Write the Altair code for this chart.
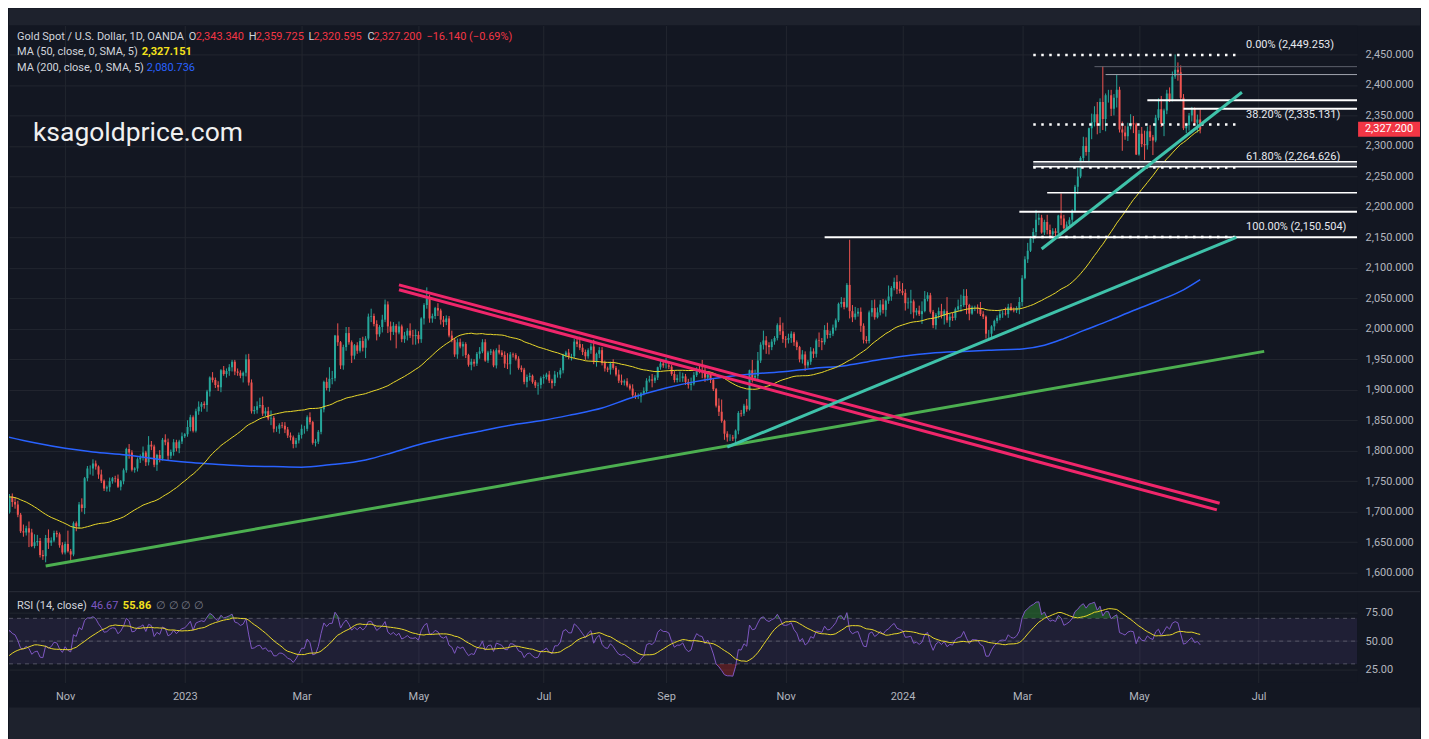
import altair as alt
import pandas as pd
import numpy as np

# ------------------------------------------------------------------ data
# closes before the first visible bar (Jul 25 - Oct 3 2022), used for MA50 / RSI warm-up
warmup_closes = [1719, 1717, 1734, 1756, 1766,
                 1772, 1760, 1765, 1791, 1775, 1789, 1794, 1792, 1790, 1802, 1779, 1775, 1761, 1758,
                 1747, 1736, 1748, 1751, 1758, 1737, 1738, 1723, 1711,
                 1697, 1712, 1710, 1702, 1718, 1708, 1716, 1724, 1702, 1697, 1665, 1675, 1676, 1664,
                 1673, 1671, 1643, 1622, 1628, 1660, 1660, 1661,
                 1699]

# daily bars: (close, upper wick, lower wick); open = previous close
oct22 = [(1725, 4, 2), (1716, 5, 8), (1712, 8, 7), (1695, 6, 4), (1668, 3, 3), (1666, 11, 7), (1673, 4, 5),
         (1666, 11, 24), (1644, 6, 2), (1650, 13, 4), (1652, 10, 6), (1629, 5, 4), (1627, 8, 6), (1657, 5, 10),
         (1649, 14, 10), (1653, 5, 5), (1665, 4, 3), (1663, 4, 5), (1645, 3, 4), (1633, 5, 3)]
nov22 = [(1647, 4, 3), (1635, 22, 2), (1630, 4, 14), (1681, 3, 3), (1676, 3, 8), (1712, 4, 4), (1706, 10, 6),
         (1755, 2, 10), (1771, 4, 5), (1771, 5, 10), (1779, 7, 12), (1774, 5, 5), (1761, 2, 7), (1751, 8, 4),
         (1738, 2, 4), (1740, 3, 5), (1750, 6, 7), (1755, 2, 4), (1754, 4, 6), (1741, 7, 2), (1750, 2, 6),
         (1768, 3, 5)]
dec22 = [(1803, 2, 4), (1797, 8, 10), (1769, 4, 3), (1771, 2, 5), (1786, 3, 5), (1789, 5, 6), (1797, 10, 5),
         (1781, 3, 6), (1810, 14, 5), (1807, 6, 6), (1777, 3, 4), (1793, 2, 10), (1787, 8, 6), (1818, 3, 3),
         (1814, 9, 5), (1792, 6, 8), (1798, 4, 5), (1814, 5, 6), (1804, 4, 5), (1815, 3, 8), (1824, 6, 4)]
jan23 = [(1827, 2, 3), (1839, 11, 4), (1855, 4, 7), (1833, 3, 3), (1865, 4, 3), (1872, 9, 6), (1877, 3, 8),
         (1875, 4, 6), (1897, 3, 11), (1920, 2, 8), (1916, 9, 4), (1908, 4, 5), (1904, 6, 6), (1932, 2, 8),
         (1926, 7, 3), (1931, 4, 6), (1937, 5, 8), (1946, 3, 7), (1930, 3, 6), (1928, 5, 5), (1923, 4, 4),
         (1928, 2, 11)]
feb23 = [(1950, 8, 6), (1912, 9, 5), (1865, 5, 4), (1867, 6, 5), (1873, 8, 6), (1875, 12, 3), (1861, 14, 4),
         (1865, 6, 4), (1853, 7, 3), (1854, 12, 11), (1836, 3, 6), (1836, 4, 5), (1842, 3, 8), (1841, 5, 4),
         (1835, 6, 6), (1825, 4, 4), (1822, 5, 5), (1811, 3, 7), (1817, 4, 6), (1826, 4, 5)]
mar23 = [(1836, 7, 6), (1836, 5, 8), (1855, 3, 4), (1847, 8, 4), (1813, 2, 3), (1815, 4, 6), (1831, 3, 4),
         (1868, 3, 4), (1913, 2, 5), (1903, 7, 4), (1918, 19, 6), (1919, 12, 9), (1989, 1, 5), (1978, 20, 6),
         (1940, 2, 6), (1970, 4, 7), (1993, 10, 6), (1978, 10, 4), (1956, 3, 12), (1973, 2, 6), (1964, 5, 5),
         (1980, 5, 3), (1969, 7, 6)]
apr23 = [(1984, 4, 17), (2020, 5, 3), (2021, 12, 9), (2008, 4, 4), (1991, 6, 10), (2003, 3, 4), (2015, 8, 9),
         (2040, 8, 4), (2004, 5, 11), (1995, 8, 14), (2005, 6, 5), (1994, 3, 26), (2004, 8, 3), (1983, 3, 5),
         (1989, 6, 6), (1997, 4, 8), (1989, 12, 4), (1988, 9, 14), (1990, 9, 14)]
may23 = [(1983, 6, 7), (2017, 2, 6), (2039, 3, 10), (2050, 18, 6), (2017, 6, 7), (2021, 4, 7), (2034, 2, 5),
         (2030, 8, 9), (2015, 3, 8), (2011, 6, 8), (2017, 5, 5), (1989, 4, 3), (1982, 8, 4), (1958, 3, 4),
         (1978, 6, 7), (1971, 6, 3), (1975, 4, 16), (1957, 3, 5), (1941, 2, 3), (1946, 5, 9), (1943, 4, 5),
         (1959, 3, 4), (1963, 7, 8)]
jun23 = [(1978, 5, 3), (1948, 5, 2), (1961, 3, 4), (1963, 4, 4), (1940, 3, 3), (1965, 3, 5), (1961, 9, 3),
         (1957, 4, 3), (1943, 6, 7), (1942, 17, 8), (1958, 4, 17), (1957, 3, 4), (1951, 3, 3), (1936, 4, 3),
         (1933, 4, 4), (1913, 3, 4), (1921, 4, 9), (1923, 5, 6), (1913, 2, 3), (1907, 3, 4), (1908, 4, 15),
         (1919, 3, 6)]
jul23 = [(1921, 4, 9), (1925, 3, 4), (1915, 6, 4), (1911, 3, 9), (1925, 6, 5), (1925, 4, 5), (1932, 4, 6),
         (1957, 2, 5), (1961, 3, 4), (1955, 6, 5), (1955, 4, 7), (1979, 5, 3), (1975, 7, 5), (1969, 12, 4),
         (1962, 6, 5), (1955, 4, 6), (1965, 3, 4), (1971, 5, 6), (1946, 11, 4), (1959, 2, 8), (1965, 5, 7)]
aug23 = [(1944, 5, 4), (1935, 4, 5), (1933, 3, 4), (1943, 3, 8), (1936, 7, 3), (1925, 3, 3), (1915, 8, 4),
         (1912, 10, 4), (1914, 3, 5), (1907, 5, 3), (1902, 3, 3), (1891, 7, 3), (1889, 5, 4), (1889, 5, 4),
         (1894, 2, 10), (1898, 6, 3), (1915, 4, 3), (1917, 6, 3), (1915, 9, 11), (1920, 4, 4), (1937, 1, 4),
         (1943, 6, 4), (1940, 6, 4)]
sep23 = [(1940, 12, 5), (1938, 5, 4), (1926, 3, 3), (1916, 5, 4), (1919, 6, 4), (1919, 11, 6), (1922, 6, 6),
         (1913, 4, 5), (1908, 5, 6), (1910, 10, 9), (1924, 5, 3), (1934, 3, 3), (1931, 5, 4), (1930, 18, 11),
         (1920, 7, 7), (1925, 5, 5), (1916, 4, 5), (1901, 3, 3), (1874, 2, 3), (1864, 12, 7), (1849, 20, 3)]
oct23 = [(1828, 2, 10), (1822, 4, 7), (1822, 5, 6), (1820, 4, 4), (1833, 2, 10), (1862, 3, 6), (1861, 5, 5),
         (1874, 3, 4), (1868, 11, 4), (1932, 1, 2), (1920, 17, 8), (1923, 10, 5), (1948, 14, 7), (1974, 4, 4),
         (1981, 16, 8), (1973, 7, 14), (1970, 5, 12), (1979, 4, 5), (1985, 3, 5), (2006, 3, 4), (1996, 13, 6),
         (1983, 14, 6)]
nov23 = [(1982, 5, 13), (1985, 7, 6), (1992, 4, 8), (1978, 3, 6), (1970, 3, 5), (1950, 2, 5), (1958, 7, 7),
         (1940, 5, 9), (1946, 3, 4), (1963, 7, 5), (1959, 5, 7), (1981, 3, 6), (1980, 13, 10), (1978, 5, 13),
         (1998, 8, 4), (1990, 12, 6), (1992, 5, 5), (2002, 5, 4), (2014, 3, 5), (2041, 2, 3), (2044, 8, 6),
         (2036, 7, 4)]
dec23 = [(2072, 3, 2), (2029, 74, 12), (2019, 10, 8), (2025, 11, 4), (2028, 6, 5), (2005, 7, 10), (1982, 4, 6),
         (1980, 6, 4), (2027, 3, 4), (2034, 13, 7), (2019, 14, 4), (2027, 8, 2), (2040, 7, 5), (2031, 9, 6),
         (2046, 2, 11), (2053, 18, 5), (2067, 3, 7), (2077, 7, 4), (2065, 11, 8), (2062, 13, 4)]
jan24 = [(2059, 13, 4), (2042, 6, 12), (2043, 8, 9), (2045, 19, 19), (2027, 3, 10), (2030, 4, 5), (2024, 8, 3),
         (2029, 16, 16), (2049, 13, 2), (2055, 5, 4), (2028, 4, 3), (2006, 3, 5), (2023, 3, 7), (2029, 6, 6),
         (2021, 12, 4), (2029, 3, 14), (2014, 23, 4), (2020, 5, 11), (2018, 6, 5), (2032, 3, 4), (2037, 11, 3),
         (2039, 17, 9)]
feb24 = [(2054, 11, 3), (2039, 11, 15), (2025, 2, 11), (2035, 3, 2), (2035, 3, 6), (2034, 5, 9), (2024, 10, 3),
         (2020, 5, 4), (1992, 2, 8), (1992, 6, 8), (2004, 2, 7), (2013, 2, 7), (2018, 4, 4), (2024, 7, 4),
         (2025, 5, 6), (2024, 10, 2), (2036, 5, 6), (2031, 6, 2), (2030, 4, 3), (2034, 3, 4), (2044, 8, 10)]
mar24 = [(2083, 5, 7), (2114, 5, 2), (2128, 13, 6), (2148, 4, 2), (2159, 6, 7), (2179, 16, 8), (2182, 7, 9),
         (2158, 5, 2), (2175, 4, 4), (2162, 12, 7), (2155, 9, 6), (2160, 5, 8), (2157, 5, 11), (2186, 1, 7),
         (2181, 36, 11), (2165, 6, 2), (2171, 5, 4), (2179, 4, 6), (2194, 2, 6), (2233, 3, 3)]
apr24 = [(2250, 15, 12), (2280, 3, 3), (2300, 15, 6), (2290, 14, 6), (2329, 1, 23), (2339, 14, 18), (2352, 13, 7),
         (2333, 20, 14), (2372, 6, 12), (2344, 59, 18), (2383, 3, 20), (2383, 9, 12), (2361, 9, 12), (2379, 6, 11),
         (2392, 25, 16), (2327, 5, 5), (2322, 13, 30), (2316, 11, 6), (2332, 6, 8), (2337, 15, 5), (2335, 12, 14),
         (2286, 3, 1)]
may24 = [(2320, 6, 2), (2303, 11, 5), (2301, 22, 24), (2324, 8, 7), (2314, 10, 6), (2309, 4, 24), (2346, 5, 3),
         (2360, 18, 4), (2336, 22, 5), (2358, 3, 20), (2386, 6, 6), (2376, 10, 4), (2414, 8, 3), (2425, 25, 4),
         (2421, 12, 14), (2379, 11, 5), (2329, 6, 3), (2334, 4, 8), (2350, 4, 9), (2361, 3, 10), (2338, 2, 4),
         (2343.34, 8, 16), (2327.2, 16.385, 6.605)]

# 200-day SMA
ma200_dates = ["2022-10-03", "2022-10-17", "2022-11-01", "2022-11-15", "2022-12-01", "2022-12-15",
               "2023-01-03", "2023-01-17", "2023-02-01", "2023-02-15", "2023-03-01", "2023-03-15",
               "2023-04-03", "2023-04-17", "2023-05-01", "2023-05-15", "2023-06-01", "2023-06-15",
               "2023-07-03", "2023-07-17", "2023-08-01", "2023-08-15", "2023-09-01", "2023-09-15",
               "2023-10-02", "2023-10-16", "2023-11-01", "2023-11-15", "2023-12-01", "2023-12-15",
               "2024-01-02", "2024-01-16", "2024-02-01", "2024-02-15", "2024-03-01", "2024-03-13",
               "2024-03-22", "2024-04-03", "2024-04-16", "2024-04-29", "2024-05-10", "2024-05-23",
               "2024-05-31"]
ma200_vals = [1823, 1813, 1804, 1798, 1793, 1787,
              1781, 1778, 1775, 1774, 1773, 1777,
              1785, 1796, 1810, 1821, 1833, 1842,
              1850, 1859, 1870, 1886, 1903, 1913,
              1921, 1926, 1930, 1935, 1940, 1948,
              1955, 1960, 1963, 1965, 1967, 1973,
              1984, 1997, 2013, 2030, 2046, 2064,
              2080.736]

# drawn trend lines: start date, start price, end date, end price, colour
trend_d1 = ["2022-10-21", "2023-04-20", "2023-04-20", "2023-10-03", "2024-03-12"]
trend_p1 = [1611, 2072, 2064, 1806, 2131]
trend_d2 = ["2024-07-03", "2024-06-11", "2024-06-10", "2024-06-19", "2024-06-21"]
trend_p2 = [1963, 1714, 1703, 2150, 2388]
trend_col = ["#4caf50", "#f0266b", "#f0266b", "#3fc2aa", "#3fc2aa"]

# horizontal levels extended to the right
level_dates = ["2023-11-21", "2024-02-29", "2024-03-14", "2024-03-07", "2024-03-07",
               "2024-05-06", "2024-05-23", "2024-04-09", "2024-04-15"]
level_prices = [2150, 2192, 2223, 2274, 2266, 2375, 2361, 2430, 2417]
level_cols = ["#ffffff", "#ffffff", "#ffffff", "#ffffff", "#ffffff", "#ffffff", "#ffffff", "#5d606b", "#a3a6af"]
box_date, box_top, box_bot = "2024-03-07", 2274, 2266

# Fibonacci retracement
fib_start, fib_end = "2024-03-07", "2024-06-20"
fib_ratios = [0.0, 0.382, 0.618, 1.0]
fib_prices = [2449.253, 2335.131, 2264.626, 2150.504]

rsi_levels = [70, 50, 30]
ma50_last, ma200_last = "2,327.151", "2,080.736"
rsi_last, rsi_ma_last = "46.67", "55.86"

# ------------------------------------------------------------------ derived
HOLIDAYS = pd.to_datetime(["2022-12-26", "2023-04-07", "2023-12-25", "2024-01-01", "2024-03-29"])
cal = pd.bdate_range("2022-06-01", "2024-09-30")
cal = cal[~cal.isin(HOLIDAYS)]
pos0 = cal.get_loc(pd.Timestamp("2022-10-04"))


def idx(d):
    return int(cal.get_loc(pd.Timestamp(d))) - pos0


bars = (oct22 + nov22 + dec22 + jan23 + feb23 + mar23 + apr23 + may23 + jun23 + jul23 + aug23 + sep23 +
        oct23 + nov23 + dec23 + jan24 + feb24 + mar24 + apr24 + may24)
nb = len(bars)
nw = len(warmup_closes)

c = [b[0] for b in bars]
o = [warmup_closes[-1]] + c[:-1]
h = [max(oo, cc) + b[1] for oo, cc, b in zip(o, c, bars)]
l = [min(oo, cc) - b[2] for oo, cc, b in zip(o, c, bars)]
cdf = pd.DataFrame({"i": range(nb), "o": o, "c": c, "h": h, "l": l})
cdf["col"] = np.where(cdf["c"] >= cdf["o"], "#26a69a", "#ef5350")

s = pd.Series(warmup_closes + c, dtype=float)
ma50 = s.rolling(50).mean()
delta = s.diff()
ag = delta.clip(lower=0).ewm(alpha=1 / 14, adjust=False).mean()
al = (-delta).clip(lower=0).ewm(alpha=1 / 14, adjust=False).mean()
rsi = 100 - 100 / (1 + ag / al)
rsi_ma = rsi.rolling(14).mean()
ldf = pd.DataFrame({"i": range(-nw, nb), "ma50": ma50, "rsi": rsi, "rsi_ma": rsi_ma})
ldf = ldf[ldf["i"] >= -3].copy()
ldf["over"] = ldf["rsi"].clip(lower=70)
ldf["under"] = ldf["rsi"].clip(upper=30)

ma200_df = pd.DataFrame({"i": [idx(d) for d in ma200_dates], "v": ma200_vals})
trend_df = pd.DataFrame({"x1": [idx(d) for d in trend_d1], "y1": trend_p1,
                         "x2": [idx(d) for d in trend_d2], "y2": trend_p2, "col": trend_col})
lvl_df = pd.DataFrame({"x": [idx(d) for d in level_dates], "p": level_prices, "col": level_cols,
                       "w": [2, 2, 1.5, 1.5, 1.5, 2, 2, 1, 1]})
box_df = pd.DataFrame({"x": [idx(box_date)], "t": [box_top], "b": [box_bot]})
fib_df = pd.DataFrame({"x1": idx(fib_start), "x2": idx(fib_end), "p": fib_prices,
                       "label": [f"{r * 100:.2f}% ({p:,.3f})" for r, p in zip(fib_ratios, fib_prices)]})
last_df = pd.DataFrame({"c": [c[-1]], "t": [f"{c[-1]:,.3f}"]})

# month ticks (every other month)
tick_vals, tick_labels = [], []
for m in pd.period_range("2022-10", "2024-09", freq="M"):
    if m.month % 2 == 1:
        first = cal[(cal.year == m.year) & (cal.month == m.month)][0]
        iv = idx(first)
        if 0 <= iv <= 484:
            tick_vals.append(iv)
            tick_labels.append(str(m.year) if m.month == 1 else first.strftime("%b"))
label_expr = " : ".join(f"datum.value == {v} ? '{t}'" for v, t in zip(tick_vals, tick_labels)) + " : ''"

# ------------------------------------------------------------------ styling
W, PH, RH, TOTAL_W = 1350, 566, 91, 1413
XDOM = [-0.18, 484.4]
YDOM = [1570.5, 2497.5]
RDOM = [13.6, 93.4]
BG, OUTER, GRID = "#131722", "#1e222d", "#22262f"
FONT = "Roboto"
TXT = "#d1d4dc"
AX = "#b2b5be"
RED = "#f23645"

xs = alt.Scale(domain=XDOM, nice=False, zero=False, padding=0)
ys = alt.Scale(domain=YDOM, nice=False, zero=False, padding=0)
rs = alt.Scale(domain=RDOM, nice=False, zero=False, padding=0)
x_ax_p = alt.Axis(values=tick_vals, labels=False, ticks=False, domain=False, grid=True, gridColor=GRID,
                  title=None, minExtent=0, maxExtent=0)
y_ax_p = alt.Axis(orient="right", values=list(range(1600, 2451, 50)), format=",.3f", labelColor=AX,
                  labelFont=FONT, labelFontSize=11, labelPadding=8, ticks=False, domain=False, grid=True,
                  gridColor=GRID, title=None)
x_ax_r = alt.Axis(values=tick_vals, labelExpr=label_expr, labelColor=AX, labelFont=FONT, labelFontSize=11,
                  labelPadding=8, labelOverlap=False, labelFlush=False, ticks=False, domain=False, grid=True,
                  gridColor=GRID, title=None, minExtent=25, maxExtent=25)
y_ax_r = alt.Axis(orient="right", values=[25, 50, 75], format=".2f", labelColor=AX, labelFont=FONT,
                  labelFontSize=11, labelPadding=8, ticks=False, domain=False, grid=True, gridColor=GRID,
                  title=None)


def PX(f):
    return alt.X(f, type="quantitative", scale=xs, axis=x_ax_p)


def PY(f):
    return alt.Y(f, type="quantitative", scale=ys, axis=y_ax_p)


def RX(f):
    return alt.X(f, type="quantitative", scale=xs, axis=x_ax_r)


def RY(f):
    return alt.Y(f, type="quantitative", scale=rs, axis=y_ax_r)


wicks = alt.Chart(cdf).mark_rule(strokeWidth=1, clip=True).encode(
    x=PX("i"), y=PY("l"), y2=alt.Y2("h"), color=alt.Color("col:N", scale=None))
bodies = alt.Chart(cdf).mark_bar(size=2, clip=True).encode(
    x=PX("i"), y=PY("o"), y2=alt.Y2("c"), color=alt.Color("col:N", scale=None))
ma200_line = alt.Chart(ma200_df).mark_line(color="#2962ff", strokeWidth=1.5, clip=True, interpolate="monotone").encode(
    x=PX("i"), y=PY("v"))
ma50_line = alt.Chart(ldf).mark_line(color="#e9d82a", strokeWidth=1, clip=True).encode(
    x=PX("i"), y=PY("ma50"))
box = alt.Chart(box_df).mark_rect(color="#50535e", opacity=0.9, clip=True).encode(
    x=PX("x"), x2=alt.value(W), y=PY("t"), y2=alt.Y2("b"))
levels = alt.Chart(lvl_df).mark_rule(clip=True).encode(
    x=PX("x"), x2=alt.value(W), y=PY("p"), color=alt.Color("col:N", scale=None),
    strokeWidth=alt.StrokeWidth("w:Q", scale=None))
trends = alt.Chart(trend_df).mark_rule(strokeWidth=3, clip=True).encode(
    x=PX("x1"), y=PY("y1"), x2=alt.X2("x2"), y2=alt.Y2("y2"), color=alt.Color("col:N", scale=None))
fib_lines = alt.Chart(fib_df).mark_rule(color="#ffffff", strokeWidth=2.5, strokeDash=[2.5, 5.5], clip=True).encode(
    x=PX("x1"), x2=alt.X2("x2"), y=PY("p"))
fib_text = alt.Chart(fib_df).mark_text(align="left", baseline="middle", dx=7, dy=-10, font=FONT,
                                       fontSize=11, color="#e6e8ee").encode(
    x=PX("x2"), y=PY("p"), text="label:N")
tag = alt.Chart(last_df).mark_point(shape="M-1,-0.242L1,-0.242L1,0.242L-1,0.242Z", size=3844, filled=True,
                                    fill=RED, opacity=1, strokeWidth=0).encode(
    x=alt.value(W + 32), y=PY("c"))
tag_text = alt.Chart(last_df).mark_text(font=FONT, fontSize=11, color="#ffffff", baseline="middle").encode(
    x=alt.value(W + 32), y=PY("c"), text="t:N")

lo, lh, ll, lc = o[-1], h[-1], l[-1], c[-1]
chg = lc - lo
chg_txt = f"{'−' if chg < 0 else '+'}{abs(chg):,.3f} ({'−' if chg < 0 else '+'}{abs(chg) / lo * 100:.2f}%)"
one = pd.DataFrame({"v": [0]})


def label(x, y, text, color, size=11, weight="normal", chart_data=one):
    return alt.Chart(chart_data).mark_text(align="left", baseline="middle", font=FONT, fontSize=size,
                                           fontWeight=weight, color=color).encode(
        x=alt.value(x), y=alt.value(y), text=alt.value(text))


price_legend = [
    label(8, 12, "Gold Spot / U.S. Dollar, 1D, OANDA", TXT),
    label(180, 12, "O", TXT), label(187, 12, f"{lo:,.3f}", RED),
    label(240, 12, "H", TXT), label(247, 12, f"{lh:,.3f}", RED),
    label(300, 12, "L", TXT), label(305, 12, f"{ll:,.3f}", RED),
    label(359, 12, "C", TXT), label(365, 12, f"{lc:,.3f}", RED),
    label(418, 12, chg_txt, RED),
    label(8, 27, "MA (50, close, 0, SMA, 5)", TXT), label(133, 27, ma50_last, "#f5e21c", weight="bold"),
    label(8, 43, "MA (200, close, 0, SMA, 5)", TXT), label(138, 43, ma200_last, "#2962ff"),
    label(24, 108, "ksagoldprice.com", "#f0f0f0", size=26.5),
]

price = alt.layer(wicks, bodies, ma200_line, ma50_line, box, levels, fib_lines, trends, fib_text, tag, tag_text,
                  *price_legend).properties(
    width=W, height=PH, view=alt.ViewBackground(fill=BG, strokeWidth=0))

band = alt.Chart(one).mark_rect(color="#7e57c2", opacity=0.12).encode(
    x=alt.value(0), x2=alt.value(W), y=RY("a"), y2=alt.Y2("b")).transform_calculate(a="70", b="30")
lv = alt.Chart(pd.DataFrame({"v": rsi_levels})).mark_rule(color="#787b86", opacity=0.6, strokeDash=[4, 4],
                                                           strokeWidth=1).encode(
    x=alt.value(0), x2=alt.value(W), y=RY("v"))
over = alt.Chart(ldf).mark_area(color="#2e7d32", opacity=0.55, clip=True).encode(
    x=RX("i"), y=RY("over"), y2=alt.Y2(datum=70))
under = alt.Chart(ldf).mark_area(color="#b22a2a", opacity=0.4, clip=True).encode(
    x=RX("i"), y=RY("under"), y2=alt.Y2(datum=30))
rsi_line = alt.Chart(ldf).mark_line(color="#7e57c2", strokeWidth=1, clip=True).encode(x=RX("i"), y=RY("rsi"))
rsi_ma_line = alt.Chart(ldf).mark_line(color="#e9d82a", strokeWidth=1, clip=True).encode(
    x=RX("i"), y=RY("rsi_ma"))
sep = alt.Chart(one).mark_rule(color="#2a2e39", strokeWidth=1).encode(
    x=alt.value(0), x2=alt.value(TOTAL_W), y=alt.value(0))
rsi_legend = [
    label(8, 14, "RSI (14, close)", TXT), label(82, 14, rsi_last, "#7e57c2"),
    label(114, 14, rsi_ma_last, "#f5e21c", weight="bold"), label(147, 14, "∅  ∅  ∅  ∅", "#787b86"),
]
rsi_chart = alt.layer(band, lv, over, under, rsi_line, rsi_ma_line, sep, *rsi_legend).properties(
    width=W, height=RH, view=alt.ViewBackground(fill=BG, strokeWidth=0))


def strip(hh):
    return alt.Chart(one).mark_point(opacity=0).encode(
        x=alt.X("v:Q", axis=None), y=alt.Y("v:Q", axis=None)).properties(
        width=TOTAL_W, height=hh, view=alt.ViewBackground(fill=OUTER, strokeWidth=0))


chart = alt.vconcat(strip(17), price, rsi_chart, strip(32), spacing=0).properties(
    padding=0, background=BG).configure_view(strokeWidth=0)

chart.save("out.html", embed_options={"renderer": "svg", "actions": False})
